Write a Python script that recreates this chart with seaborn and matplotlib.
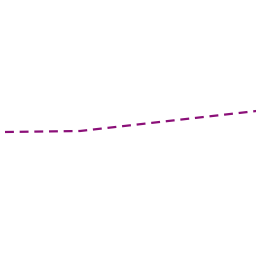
import matplotlib
matplotlib.use("Agg")
import matplotlib.pyplot as plt
import seaborn as sns
import pandas as pd

x_vals = [0, 1, 2, 3, 4]
y_vals = [124, 125, 133.5, 142, 150.5]

df = pd.DataFrame({"x": x_vals, "y": y_vals})

fig = plt.figure(figsize=(2.56, 2.56), dpi=100)
ax = fig.add_axes([0, 0, 1, 1])
sns.lineplot(data=df, x="x", y="y", ax=ax, color="#8b0f78", linewidth=1.6)
ax.lines[0].set_dashes((4.0, 2.6))
ax.set_xlim(-5/75, 251/75)
ax.set_ylim(0, 256)
ax.axis("off")
fig.savefig("out.png", dpi=100)
